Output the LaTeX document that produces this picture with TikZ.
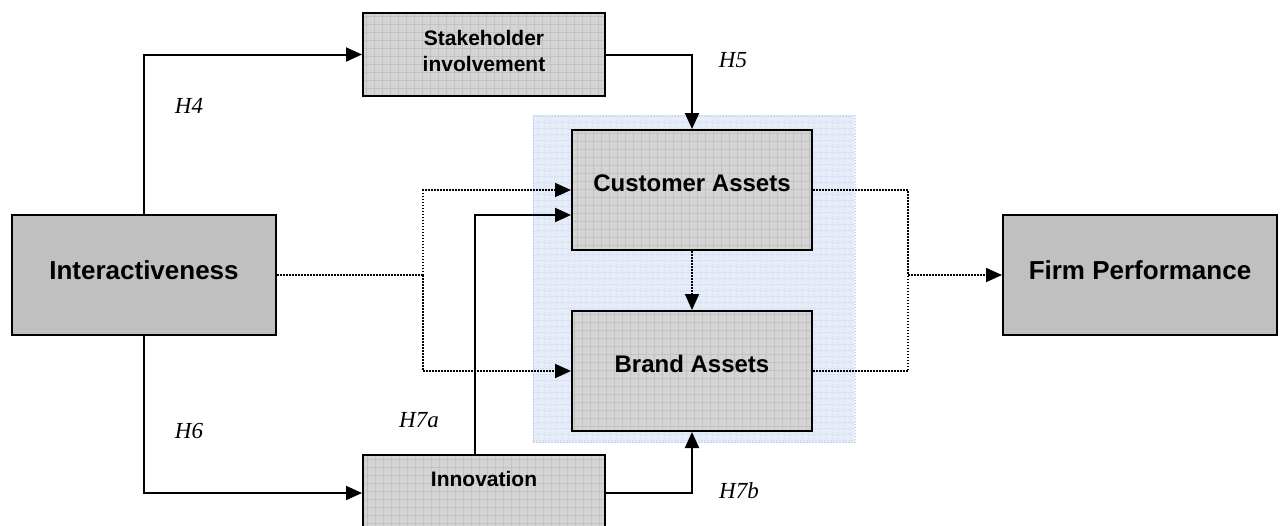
\documentclass[tikz,border=0pt]{standalone}
\usepackage{fontspec}
\setmainfont{Liberation Serif}
\setsansfont{Liberation Sans}
\usetikzlibrary{arrows.meta,calc}
\definecolor{plaingray}{HTML}{C0C0C0}
\definecolor{texgray}{HTML}{D4D4D4}
\definecolor{texline}{HTML}{C2C2C2}
\definecolor{bgblue}{HTML}{E6EDF8}
\definecolor{bgline}{HTML}{D3DEF0}
\definecolor{bgedge}{HTML}{B9CCEA}
\tikzset{
  plainbox/.style={draw=black, line width=2pt, fill=plaingray, rectangle, inner sep=0pt,
    font=\sffamily\bfseries\fontsize{26}{30}\selectfont},
  texbox/.style={draw=black, line width=2pt, fill=texgray, rectangle, inner sep=0pt,
    path picture={\draw[texline, line width=0.8pt, step=8pt]
      (path picture bounding box.south west) grid (path picture bounding box.north east);}},
  bigtex/.style={texbox, font=\sffamily\bfseries\fontsize{24}{28}\selectfont},
  smalltex/.style={texbox, align=center, font=\sffamily\bfseries\fontsize{21}{25}\selectfont},
  hyp/.style={font=\itshape\fontsize{23}{26}\selectfont, inner sep=0pt},
  arr/.style={line width=2pt, -{Triangle[length=16pt,width=14pt]}},
  dotl/.style={line width=1.8pt, dash pattern=on 1.5pt off 1.5pt},
  dotarr/.style={dotl, -{Triangle[length=16pt,width=14pt]}}
}
\begin{document}
\begin{tikzpicture}[x=1pt,y=1pt]
\useasboundingbox (0,0) rectangle (1281,-525);
\clip (0,0) rectangle (1281,-525);
% background panel
\node (bg) [rectangle, draw=bgedge, line width=1pt, dash pattern=on 1.5pt off 1.5pt, fill=bgblue,
  minimum width=322pt, minimum height=327pt, inner sep=0pt,
  path picture={\draw[bgline, line width=0.8pt, step=6pt]
      (path picture bounding box.south west) grid (path picture bounding box.north east);}]
  at (694,-278.5) {};
% boxes
\node (inter) [plainbox, minimum width=264pt, minimum height=120pt] at (144,-275) {\raisebox{9pt}{Interactiveness}};
\node (fp) [plainbox, minimum width=274pt, minimum height=120pt] at (1140,-275) {\raisebox{10pt}{Firm Performance}};
\node (stake) [smalltex, minimum width=242pt, minimum height=83pt] at (484,-54.5) {\raisebox{22pt}{\begin{tabular}{@{}c@{}}Stakeholder\\[1pt]involvement\end{tabular}}};
\node (innov) [smalltex, minimum width=242pt, minimum height=76pt] at (484,-493) {\raisebox{29pt}{Innovation}};
\node (ca) [bigtex, minimum width=240pt, minimum height=120pt] at (692,-190) {\raisebox{14pt}{Customer Assets}};
\node (ba) [bigtex, minimum width=240pt, minimum height=120pt] at (692,-371) {\raisebox{14pt}{Brand Assets}};
% coordinates
\coordinate (split) at (423,-275);
\coordinate (join) at (908,-275);
\coordinate (up7a) at ($(innov.north west)+(113,0)$);
\coordinate (in7a) at ($(ca.west)+(0,-25)$);
% solid connectors
\draw[arr] (inter.north) |- (stake.west);
\draw[arr] (stake.east) -| (ca.north);
\draw[arr] (inter.south) |- (innov.west);
\draw[arr] (innov.east) -| (ba.south);
\draw[arr] (up7a) |- (in7a);
% dotted connectors
\draw[dotl] (inter.east) -- (split);
\draw[dotarr] (split) |- (ca.west);
\draw[dotarr] (split) |- (ba.west);
\draw[dotl] (ca.east) -| (join);
\draw[dotl] (ba.east) -| (join);
\draw[dotarr] (join) -- (fp.west);
\draw[dotarr] (ca.south) -- (ba.north);
% labels
\node (h4) [hyp] at (189,-106) {H4};
\node (h5) [hyp] at (733,-60) {H5};
\node (h6) [hyp] at (189,-431) {H6};
\node (h7a) [hyp] at (419,-420) {H7a};
\node (h7b) [hyp] at (739,-491) {H7b};
\end{tikzpicture}
\end{document}
